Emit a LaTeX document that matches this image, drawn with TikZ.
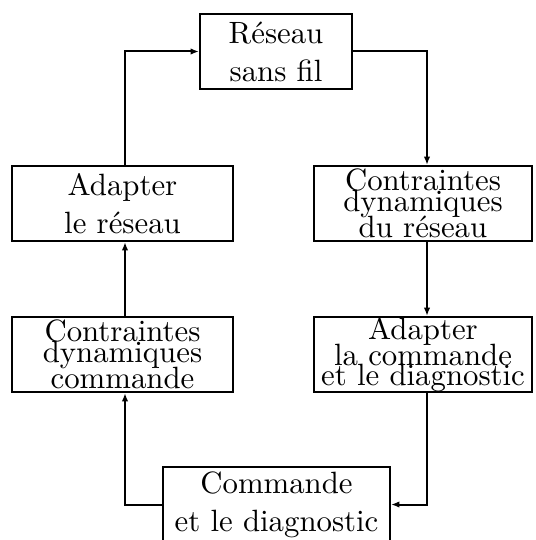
\documentclass[tikz,border=0pt]{standalone}
\usetikzlibrary{arrows.meta}
\font\mylmten="[lmroman10-regular]:mapping=tex-text" at 15.4pt
\newcommand\mytightlines{\mylmten\baselineskip=0pt\relax\lineskiplimit=0pt\relax\lineskip=-0.7pt\relax}
\newcommand\mynormallines{\mylmten\baselineskip=19pt\relax}
\begin{document}
\begin{tikzpicture}[x=0.5pt,y=-0.5pt,
  box/.style={draw,line width=1pt,inner sep=0pt,align=center,minimum height=37.5pt},
  twoline/.style={box,font=\mynormallines},
  threeline/.style={box,font=\mytightlines},
  arr/.style={line width=1pt,-{Latex[length=4.2pt,width=3.2pt]}}]
\clip (0,0) rectangle (535,540);
\useasboundingbox (0,0) rectangle (535,540);
\coordinate (L) at (125,0);
\coordinate (R) at (427,0);
\node[twoline,minimum width=76pt] (res) at (276,51.5) {Réseau\\sans fil};
\node[twoline,minimum width=110.5pt] (adr) at (122.5,203.5) {Adapter\\le réseau};
\node[threeline,minimum width=109pt] (cdr) at (423,203.5) {Contraintes\\dynamiques\\du réseau};
\node[threeline,minimum width=110.5pt] (ccd) at (122.5,354.5) {Contraintes\\dynamiques\\commande};
\node[threeline,minimum width=109pt] (acd) at (423,354.5) {Adapter\\la commande\\et le diagnostic};
\node[twoline,minimum width=113.5pt] (cmd) at (276.5,504.5) {Commande\\et le diagnostic};
\draw[arr] (cmd.west) -| (ccd.south -| L);
\draw[arr] (ccd.north -| L) -- (adr.south -| L);
\draw[arr] (adr.north -| L) |- (res.west);
\draw[arr] (res.east) -| (cdr.north -| R);
\draw[arr] (cdr.south -| R) -- (acd.north -| R);
\draw[arr] (acd.south -| R) |- (cmd.east);
\end{tikzpicture}
\end{document}
